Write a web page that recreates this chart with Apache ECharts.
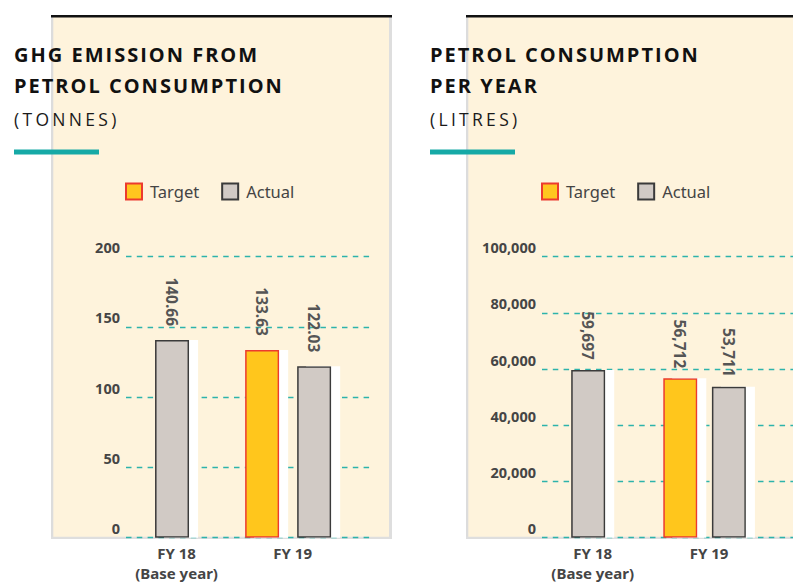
<!DOCTYPE html>
<html>
<head>
<meta charset="utf-8">
<script src="https://cdn.jsdelivr.net/npm/echarts@6/dist/echarts.min.js"></script>
<style>
  html, body { margin: 0; padding: 0; background: #ffffff; }
  #chart { width: 793px; height: 582px; }
</style>
</head>
<body>
<div id="chart"></div>
<script>
// Fiscal years on the category axis
const categories = ['FY 18\n(Base year)', 'FY 19'];

// GHG emission from petrol consumption (tonnes)
const ghgTarget = [null, 133.63];
const ghgActual = [140.66, 122.03];
const ghgTicks = [0, 50, 100, 150, 200];

// Petrol consumption per year (litres)
const petrolTarget = [null, 56712];
const petrolActual = [59697, 53711];
const petrolTicks = [0, 20000, 40000, 60000, 80000, 100000];

const seriesNames = ['Target', 'Actual'];

const CREAM = '#FEF3DC';
const TEAL = '#16A9A6';
const GRID_TEAL = '#2DB3AB';
const YELLOW = '#FFC61F';
const RED = '#EC3A2E';
const GREY = '#D1CAC5';
const DARK = '#3A3A3A';
const NARROW = "'Noto Sans Condensed', 'Noto Sans', 'DejaVu Sans Condensed', sans-serif";
const STRETCH = 'condensed';
const TITLE_FONT = "'Open Sans', sans-serif";
const LEGEND_FONT = "'Noto Sans', sans-serif";

const panels = [
  {
    heading: ['GHG EMISSION FROM', 'PETROL CONSUMPTION'],
    unit: '(TONNES)',
    target: ghgTarget, actual: ghgActual, ticks: ghgTicks,
    fmtValue: v => v.toFixed(2),
    fmtTick: v => String(v),
    textX: 14,
    box: { x: 51, right: 392 },
    lines: { left: 126, width: 244 },
    bars: { left: 114, width: 232.2 },
    barGap: '53%',
    labelGap: 14,
    legendLeft: 125
  },
  {
    heading: ['PETROL CONSUMPTION', 'PER YEAR'],
    unit: '(LITRES)',
    target: petrolTarget, actual: petrolActual, ticks: petrolTicks,
    fmtValue: v => v.toLocaleString('en-US'),
    fmtTick: v => v.toLocaleString('en-US'),
    textX: 430,
    box: { x: 466, right: 800 },
    lines: { left: 542, width: 260 },
    bars: { left: 530, width: 232.8 },
    barGap: '43%',
    labelGap: 10,
    legendLeft: 541
  }
];

const PLOT_TOP = 256.7;
const PLOT_H = 281;

const option = {
  animation: false,
  backgroundColor: '#ffffff',
  grid: [], xAxis: [], yAxis: [], series: [], legend: [], graphic: []
};

const targetStyle = { color: YELLOW, borderColor: RED, borderWidth: 1.5,
  shadowColor: '#ffffff', shadowOffsetX: 9, shadowOffsetY: 0, shadowBlur: 0 };
const actualStyle = { color: GREY, borderColor: DARK, borderWidth: 1.5,
  shadowColor: '#ffffff', shadowOffsetX: 9, shadowOffsetY: 0, shadowBlur: 0 };

const spacedTexts = {};

panels.forEach((p) => {
  const g0 = option.grid.length;
  const x0 = option.xAxis.length;
  const y0 = option.yAxis.length;
  const min = p.ticks[0];
  const max = p.ticks[p.ticks.length - 1];
  const step = p.ticks[1] - p.ticks[0];

  spacedTexts[p.heading[0]] = '2px';
  spacedTexts[p.heading[1]] = '2px';
  spacedTexts[p.unit] = '3.3px';

  // Panel background and frame
  const b = p.box;
  option.graphic.push(
    { type: 'rect', z: -20, shape: { x: b.x, y: 17, width: b.right - b.x, height: 522 }, style: { fill: CREAM } },
    { type: 'rect', z: -19, shape: { x: b.x, y: 17, width: 2.3, height: 522 }, style: { fill: '#DCDCDC' } },
    { type: 'rect', z: -19, shape: { x: b.right - 3, y: 17, width: 3, height: 522 }, style: { fill: '#DEDEDE' } },
    { type: 'rect', z: -19, shape: { x: b.x, y: 536.7, width: b.right - b.x, height: 2.4 }, style: { fill: '#DEDEDE' } },
    { type: 'rect', z: -18, shape: { x: b.x, y: 15, width: b.right - b.x, height: 2.6 }, style: { fill: '#111111' } },
    // Heading, unit and accent rule
    { type: 'text', z: 50, x: p.textX, y: 54.5, style: { text: p.heading[0], font: 'bold 20px ' + TITLE_FONT, fill: '#111111', verticalAlign: 'middle' } },
    { type: 'text', z: 50, x: p.textX, y: 85.5, style: { text: p.heading[1], font: 'bold 20px ' + TITLE_FONT, fill: '#111111', verticalAlign: 'middle' } },
    { type: 'text', z: 50, x: p.textX, y: 118.5, style: { text: p.unit, font: '17.5px ' + TITLE_FONT, fill: '#1a1a1a', verticalAlign: 'middle' } },
    { type: 'rect', z: 50, shape: { x: p.textX, y: 149.5, width: 85, height: 5 }, style: { fill: TEAL } }
  );

  // Grid carrying the dashed gridlines and tick labels
  option.grid.push({ left: p.lines.left, width: p.lines.width, top: PLOT_TOP, height: PLOT_H,
    outerBoundsMode: 'none', containLabel: false });
  // Grid carrying the bars
  option.grid.push({ left: p.bars.left, width: p.bars.width, top: PLOT_TOP, height: PLOT_H,
    outerBoundsMode: 'none', containLabel: false });

  option.xAxis.push(
    { gridIndex: g0, type: 'value', min: 0, max: 1, show: false },
    { gridIndex: g0 + 1, type: 'category', data: categories,
      axisLine: { show: false }, axisTick: { show: false },
      axisLabel: { interval: 0, margin: 6, color: '#454545', fontFamily: NARROW, fontStyle: STRETCH,
        fontWeight: 'bold', fontSize: 15, lineHeight: 19.5, padding: [0, 0, 0, 9] } },
    { gridIndex: g0 + 1, type: 'category', data: categories, show: false }
  );
  option.yAxis.push(
    { gridIndex: g0, type: 'value', min: min, max: max, interval: step,
      axisLine: { show: false }, axisTick: { show: false },
      axisLabel: { margin: 6, color: '#454545', fontFamily: NARROW, fontStyle: STRETCH,
        fontWeight: 'bold', fontSize: 14.5, verticalAlign: 'bottom', padding: [0, 0, 2, 0], formatter: p.fmtTick },
      splitLine: { lineStyle: { color: GRID_TEAL, width: 1.4, type: [5.5, 5.3] } } },
    { gridIndex: g0 + 1, type: 'value', min: min, max: max, show: false }
  );

  const valueLabel = {
    show: true, position: 'top', rotate: -90, align: 'right', verticalAlign: 'middle',
    distance: p.labelGap,
    color: '#555555', fontFamily: NARROW, fontStyle: STRETCH, fontWeight: 'bold', fontSize: 15.5,
    formatter: d => p.fmtValue(d.value)
  };

  // Base year: a lone actual bar centred on its category
  option.series.push({
    name: 'Actual', type: 'bar', xAxisIndex: x0 + 1, yAxisIndex: y0 + 1,
    barWidth: 34, itemStyle: actualStyle, label: valueLabel,
    data: p.actual.map((v, k) => (p.target[k] == null ? v : '-'))
  });
  // Later years: target and actual side by side
  option.series.push({
    name: 'Target', type: 'bar', xAxisIndex: x0 + 2, yAxisIndex: y0 + 1,
    barWidth: 34, barGap: p.barGap, itemStyle: targetStyle, label: valueLabel,
    data: p.target.map(v => (v == null ? '-' : v))
  });
  option.series.push({
    name: 'Actual', type: 'bar', xAxisIndex: x0 + 2, yAxisIndex: y0 + 1,
    barWidth: 34, barGap: p.barGap, itemStyle: actualStyle, label: valueLabel,
    data: p.actual.map((v, k) => (p.target[k] == null ? '-' : v))
  });

  option.legend.push({
    left: p.legendLeft, top: 182.5, padding: 0, itemWidth: 16, itemHeight: 16, itemGap: 22,
    icon: 'rect', selectedMode: false, data: seriesNames,
    textStyle: { color: '#444444', fontFamily: LEGEND_FONT, fontSize: 16.5, padding: [0, 0, 0, 3] }
  });
});

const chart = echarts.init(document.getElementById('chart'), null, { renderer: 'svg' });
chart.setOption(option);

// Tracked capitals for headings and units
function spaceHeadings() {
  document.querySelectorAll('#chart text').forEach(t => {
    const ls = spacedTexts[t.textContent];
    if (ls) t.style.letterSpacing = ls;
  });
}
spaceHeadings();
chart.on('finished', spaceHeadings);
</script>
</body>
</html>
